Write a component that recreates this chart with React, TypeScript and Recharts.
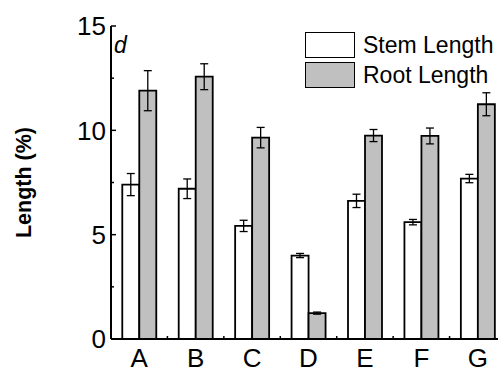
import { Bar, BarChart, Customized, ErrorBar, Legend, XAxis, YAxis } from 'recharts';

const categories = ['A', 'B', 'C', 'D', 'E', 'F', 'G'];
const stemLength = [7.4, 7.2, 5.42, 4.0, 6.62, 5.6, 7.69];
const stemError = [0.53, 0.47, 0.27, 0.1, 0.32, 0.13, 0.2];
const rootLength = [11.9, 12.57, 9.65, 1.24, 9.75, 9.73, 11.25];
const rootError = [0.96, 0.62, 0.49, 0.05, 0.29, 0.38, 0.55];
const yTicks = [0, 2.5, 5, 7.5, 10, 12.5, 15];
const seriesNames = ['Stem Length', 'Root Length'];

const data = categories.map((name, i) => ({
  name,
  stem: stemLength[i],
  stemErr: stemError[i],
  root: rootLength[i],
  rootErr: rootError[i],
}));

const FONT = '"Liberation Sans", Arial, Helvetica, sans-serif';

// inward ticks: major ones get a label, the half steps only a short mark
function YTick({ x, y, payload }: any) {
  const major = payload.value % 5 === 0;
  return (
    <g>
      <line x1={x} x2={x + (major ? 5 : 3)} y1={y} y2={y} stroke="#000" strokeWidth={1.5} />
      {major && (
        <text x={x - 5} y={y} dy="0.36em" textAnchor="end" fontSize={26} fontFamily={FONT} fill="#000">
          {payload.value}
        </text>
      )}
    </g>
  );
}

// half a category band, taken from the axis width and tick count
const halfBand = (width: number, count: number) => (count ? width / count / 2 : 0);

function XTick({ x, y, payload, index, width, visibleTicksCount }: any) {
  const half = halfBand(width, visibleTicksCount);
  return (
    <g>
      {index > 0 && (
        <line x1={x - half} x2={x - half} y1={y} y2={y - 3} stroke="#000" strokeWidth={1.5} />
      )}
      <text x={x} y={y + 28} textAnchor="middle" fontSize={26} fontFamily={FONT} fill="#000">
        {payload.value}
      </text>
    </g>
  );
}

function TopTick({ x, y, width, visibleTicksCount }: any) {
  const half = halfBand(width, visibleTicksCount);
  const marks = [x - half, x - half / 3, x + half / 3];
  return (
    <g>
      {marks.map((mx, i) => (
        <line key={i} x1={mx} x2={mx} y1={y} y2={y + 2} stroke="#000" strokeWidth={1} />
      ))}
    </g>
  );
}

function YLabel({ viewBox }: any) {
  const cx = viewBox.x - 20;
  const cy = viewBox.y + viewBox.height / 2;
  return (
    <text
      x={cx}
      y={cy}
      transform={`rotate(-90, ${cx}, ${cy})`}
      textAnchor="middle"
      fontSize={21.5}
      fontWeight="bold"
      fontFamily={FONT}
      fill="#000"
    >
      Length (%)
    </text>
  );
}

function LegendBox({ payload }: any) {
  const items = [...(payload || [])].sort(
    (a: any, b: any) => seriesNames.indexOf(a.value) - seriesNames.indexOf(b.value),
  );
  return (
    <div style={{ fontFamily: FONT }}>
      {items.map((entry: any) => (
        <div key={entry.value} style={{ display: 'flex', alignItems: 'center', height: 30 }}>
          <span
            style={{
              display: 'inline-block',
              width: 50,
              height: 26,
              boxSizing: 'border-box',
              border: '1.5px solid #000',
              background: entry.color,
            }}
          />
          <span style={{ marginLeft: 8, fontSize: 23, color: '#000', whiteSpace: 'nowrap' }}>{entry.value}</span>
        </div>
      ))}
    </div>
  );
}

export default function App() {
  return (
    <div style={{ position: 'absolute', left: 0, top: 0, width: 498, height: 373, overflow: 'hidden', background: '#fff' }}>
      <BarChart
        width={520}
        height={373}
        data={data}
        margin={{ top: 26, right: 14, bottom: 4, left: 51 }}
        barCategoryGap="20%"
        barGap={0}
      >
        <XAxis
          xAxisId="cat"
          dataKey="name"
          interval={0}
          height={30}
          tickSize={0}
          tickMargin={0}
          tickLine={false}
          axisLine={{ stroke: '#000', strokeWidth: 2 }}
          tick={<XTick />}
        />
        <XAxis
          xAxisId="top"
          dataKey="name"
          orientation="top"
          interval={0}
          height={0}
          tickSize={0}
          tickMargin={0}
          tickLine={false}
          axisLine={{ stroke: '#000', strokeWidth: 2 }}
          tick={<TopTick />}
        />
        <YAxis
          domain={[0, 15]}
          ticks={yTicks}
          interval={0}
          width={60}
          tickSize={0}
          tickMargin={0}
          tickLine={false}
          axisLine={{ stroke: '#000', strokeWidth: 2 }}
          tick={<YTick />}
          label={{ value: 'Length (%)', content: (p: any) => <YLabel {...p} /> }}
        />
        <Legend
          layout="horizontal"
          verticalAlign="middle"
          align="center"
          content={<LegendBox />}
          wrapperStyle={{ position: 'absolute', left: 305, top: 30, width: 220, height: 60 }}
        />
        <Bar xAxisId="cat" dataKey="stem" name={seriesNames[0]} fill="#ffffff" stroke="#000" strokeWidth={1.8} isAnimationActive={false}>
          <ErrorBar dataKey="stemErr" width={4} stroke="#000" strokeWidth={1.3} isAnimationActive={false} />
        </Bar>
        <Bar xAxisId="cat" dataKey="root" name={seriesNames[1]} fill="#c0c0c0" stroke="#000" strokeWidth={1.8} isAnimationActive={false}>
          <ErrorBar dataKey="rootErr" width={4} stroke="#000" strokeWidth={1.3} isAnimationActive={false} />
        </Bar>
        <Customized
          component={() => (
            <text x={114} y={52.5} fontSize={23} fontStyle="italic" fontFamily={FONT} fill="#000">
              d
            </text>
          )}
        />
      </BarChart>
    </div>
  );
}
